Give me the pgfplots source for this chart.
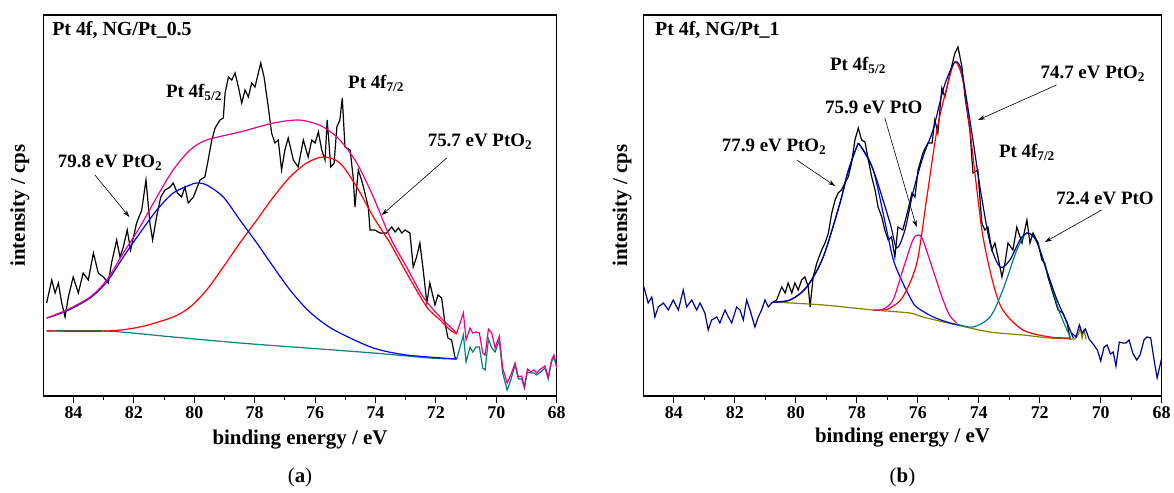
\documentclass[border=0pt]{standalone}
\usepackage{pgfplots}
\pgfplotsset{compat=1.18}
\usepackage{fontspec}
\setmainfont{Liberation Serif}
\usetikzlibrary{arrows.meta}
\definecolor{cteal}{RGB}{0,128,128}
\definecolor{cnavy}{RGB}{0,0,140}
\definecolor{colive}{RGB}{128,128,0}
\pgfplotsset{
 xpsstyle/.style={
  scale only axis, height=381bp, ymin=0, ymax=381, xmin=68, xmax=85, x dir=reverse,
  ytick=\empty, xtick={68,70,...,84}, minor xtick={69,71,...,83},
  xtick pos=bottom, tick align=outside, major tick length=7bp, minor tick length=4bp,
  axis line style={line width=1.3bp}, every tick/.style={line width=1.1bp, black},
  tick label style={font=\fontsize{18}{20}\selectfont\bfseries},
  /pgf/number format/assume math mode=true,
  xlabel={binding energy / eV}, ylabel={intensity / cps},
  label style={font=\fontsize{21}{24}\selectfont\bfseries},
  clip=false,
  every axis plot/.append style={line width=1.2bp, no markers},
  anchor=south west,
 },
}
\tikzset{
 ann/.style={font=\fontsize{19}{21}\selectfont\bfseries, inner sep=0pt},
 arr/.style={line width=0.6bp, -{Stealth[length=7bp,width=4.5bp]}},
}
\begin{document}
\begin{tikzpicture}
\useasboundingbox (0,0) rectangle (1174bp,493bp);
% ---------------- panel (a)
\begin{axis}[xpsstyle, at={(43.3bp,97bp)}, width=513.4bp,
  xlabel style={at={(axis description cs:0.5,-0.1155)}, anchor=center},
  ylabel style={at={(axis description cs:-0.0454,0.5)}, anchor=center}]
\addplot[black] coordinates {(84.89,93)(84.72,116)(84.61,103)(84.50,113)(84.39,93)(84.28,79)(84.17,99)(84.01,119)(83.84,103)(83.68,123)(83.51,116)(83.34,143)(83.18,123)(83.01,119)(82.85,113)(82.74,133)(82.57,156)(82.46,139)(82.35,149)(82.22,166)(82.11,146)(81.91,173)(81.74,186)(81.60,216)(81.47,173)(81.38,156)(81.25,179)(81.11,199)(80.97,206)(80.80,209)(80.70,213)(80.56,203)(80.42,199)(80.31,209)(80.20,193)(80.03,199)(79.81,216)(79.65,219)(79.54,236)(79.42,256)(79.31,268)(79.15,276)(79.04,278)(78.98,303)(78.87,319)(78.76,316)(78.65,323)(78.54,309)(78.43,293)(78.32,306)(78.21,299)(78.10,313)(77.99,309)(77.88,323)(77.80,333)(77.69,319)(77.55,289)(77.44,263)(77.33,253)(77.22,256)(77.11,226)(77.00,246)(76.89,258)(76.72,236)(76.56,229)(76.39,256)(76.23,239)(76.11,256)(76.00,253)(75.89,264)(75.78,246)(75.67,236)(75.60,276)(75.48,229)(75.37,233)(75.28,269)(75.18,276)(75.10,298)(75.01,249)(74.84,246)(74.74,219)(74.68,189)(74.57,226)(74.46,216)(74.35,203)(74.24,189)(74.18,166)(74.02,166)(73.85,163)(73.63,163)(73.46,169)(73.35,164)(73.24,168)(73.13,163)(73.02,166)(72.86,163)(72.75,129)(72.64,139)(72.53,153)(72.42,126)(72.30,93)(72.20,113)(72.03,91)(71.93,101)(71.81,98)(71.70,73)(71.60,58)(71.48,56)(71.37,39)(71.31,37)};
\addplot[cteal, smooth] coordinates {(84.89,65)(82.90,65)(80.70,59)(78.49,53)(76.28,48)(74.07,43)(72.20,38)(71.31,37)};
\addplot[cteal] coordinates {(71.31,37)(71.09,61)(71.00,34)(70.87,49)(70.78,44)(70.67,49)(70.56,49)(70.45,28)(70.37,26)(70.26,57)(70.15,48)(70.04,44)(69.90,56)(69.79,23)(69.64,6)(69.52,16)(69.38,31)(69.27,17)(69.16,17)(69.07,8)(68.97,24)(68.86,23)(68.75,23)(68.66,21)(68.53,24)(68.39,28)(68.28,17)(68.17,34)(68.09,39)(68.00,28)};
\addplot[red, smooth] coordinates {(84.89,65)(82.90,65)(81.80,69)(80.70,79)(80.14,89)(79.59,106)(79.04,129)(78.49,153)(77.93,176)(77.38,199)(76.83,219)(76.28,233)(75.73,239)(75.18,233)(74.62,209)(74.07,179)(73.52,153)(72.97,123)(72.30,89)(71.86,76)(71.53,66)(71.31,62)};
\addplot[blue, smooth] coordinates {(84.89,78)(84.23,85)(83.45,98)(82.90,114)(82.35,139)(81.80,163)(81.24,186)(80.70,203)(80.14,211)(79.92,213)(79.59,211)(79.04,199)(78.49,176)(77.93,153)(77.38,129)(76.83,106)(76.28,87)(75.73,73)(75.18,63)(74.07,48)(72.97,41)(71.31,37)};
\addplot[magenta, smooth] coordinates {(84.89,78)(84.23,86)(83.45,99)(82.90,116)(82.35,143)(81.80,169)(81.24,199)(80.70,226)(80.14,246)(79.59,256)(78.49,264)(77.38,273)(76.61,276)(76.17,274)(75.73,269)(75.18,256)(74.62,233)(74.07,199)(73.52,159)(72.97,129)(72.42,99)(71.86,79)(71.31,63)};
\addplot[magenta] coordinates {(71.31,63)(71.09,83)(71.00,56)(70.87,68)(70.78,63)(70.67,64)(70.56,63)(70.45,43)(70.37,41)(70.26,67)(70.15,63)(70.04,48)(69.90,60)(69.79,28)(69.64,13)(69.52,21)(69.38,33)(69.27,19)(69.16,20)(69.07,9)(68.97,27)(68.86,24)(68.75,26)(68.66,23)(68.53,27)(68.39,30)(68.28,19)(68.17,36)(68.09,41)(68.00,29)};
\node[ann, anchor=west, font=\fontsize{20}{22}\selectfont\bfseries] at (axis cs:84.71,366) {Pt 4f, NG/Pt\_0.5};
\node[ann] at (axis cs:80.01,304) {Pt 4f\textsubscript{5/2}};
\node[ann] at (axis cs:73.98,313) {Pt 4f\textsubscript{7/2}};
\node[ann] at (axis cs:82.79,233) {79.8 eV PtO\textsubscript{2}};
\draw[arr] (axis cs:83.29,221) -- (axis cs:82.15,179);
\node[ann] at (axis cs:70.54,254) {75.7 eV PtO\textsubscript{2}};
\draw[arr] (axis cs:71.64,238) -- (axis cs:73.79,181);
\node[font=\fontsize{21}{24}\selectfont] at (axis description cs:0.5,-0.215) {(\textbf{a})};
\end{axis}
% ---------------- panel (b)
\begin{axis}[xpsstyle, at={(643.3bp,97bp)}, width=518.4bp,
  xlabel style={at={(axis description cs:0.5,-0.108)}, anchor=center},
  ylabel style={at={(axis description cs:-0.041,0.5)}, anchor=center}]
\addplot[cnavy] coordinates {(84.98,109)(84.84,93)(84.72,99)(84.62,79)(84.51,89)(84.34,93)(84.18,86)(84.02,96)(83.85,86)(83.69,106)(83.58,89)(83.41,96)(83.25,86)(83.14,93)(82.98,83)(82.87,66)(82.76,76)(82.59,79)(82.49,73)(82.32,86)(82.21,79)(82.10,73)(81.94,89)(81.83,86)(81.72,76)(81.61,96)(81.50,86)(81.34,69)(81.23,79)(81.12,86)(81.01,96)(80.90,89)(80.79,93)(80.74,94)};
\addplot[black] coordinates {(80.74,94)(80.63,96)(80.46,109)(80.35,103)(80.25,113)(80.13,103)(80.03,113)(79.92,106)(79.81,116)(79.70,119)(79.59,109)(79.53,89)(79.43,119)(79.31,133)(79.15,146)(79.04,153)(78.93,163)(78.82,183)(78.71,196)(78.61,203)(78.50,206)(78.39,213)(78.28,219)(78.17,233)(78.06,256)(77.95,268)(77.84,256)(77.73,254)(77.62,236)(77.51,219)(77.40,206)(77.30,189)(77.18,179)(77.08,166)(76.97,156)(76.86,159)(76.75,139)(76.65,169)(76.49,166)(76.32,186)(76.19,203)(76.09,199)(75.99,226)(75.83,243)(75.67,253)(75.53,253)(75.44,276)(75.34,263)(75.21,308)(75.11,299)(74.94,323)(74.78,343)(74.68,349)(74.55,329)(74.45,299)(74.29,266)(74.19,223)(74.03,226)(73.90,173)(73.80,166)(73.70,169)(73.57,146)(73.47,153)(73.37,139)(73.24,119)(73.14,133)(73.04,153)(72.88,146)(72.75,169)(72.58,153)(72.42,176)(72.32,153)(72.22,163)(72.05,153)(71.93,136)(71.83,133)(71.73,119)(71.60,106)(71.50,96)(71.40,86)(71.24,83)(71.10,73)(71.00,56)};
\addplot[colive, smooth] coordinates {(80.74,94)(79.10,91)(77.46,86)(76.26,83)(75.83,79)(74.72,71)(73.63,64)(72.55,61)(71.67,58)(70.84,57)};
\addplot[colive] coordinates {(70.84,57)(70.73,62)(70.67,68)(70.61,58)(70.55,66)(70.48,57)};
\addplot[blue, smooth] coordinates {(80.74,94)(80.19,96)(79.64,109)(79.10,139)(78.55,193)(78.28,225)(78.00,249)(77.90,251)(77.46,226)(77.02,166)(76.81,137)(76.58,119)(76.26,99)(76.04,89)(75.49,79)(74.94,73)(74.62,71)};
\addplot[magenta, smooth] coordinates {(77.46,86)(77.13,87)(76.81,96)(76.49,126)(76.16,156)(75.98,161)(75.83,156)(75.50,126)(75.17,96)(74.94,80)(74.72,73)};
\addplot[red, smooth] coordinates {(77.14,86)(76.91,88)(76.49,99)(76.03,133)(75.70,199)(75.37,266)(75.04,309)(74.78,334)(74.52,316)(74.29,266)(74.06,206)(73.86,159)(73.53,113)(73.21,86)(72.55,66)(71.67,59)(71.00,58)};
\addplot[cteal, smooth] coordinates {(74.72,72)(74.19,69)(73.63,79)(73.21,106)(72.75,146)(72.42,163)(72.08,153)(71.67,116)(71.34,83)(71.00,59)};
\addplot[cnavy, smooth] coordinates {(80.74,94)(80.19,96)(79.64,109)(79.10,139)(78.55,193)(78.28,225)(78.00,249)(77.90,251)(77.46,226)(76.91,173)(76.69,148)(76.42,166)(76.16,203)(75.83,239)(75.50,266)(75.17,306)(74.94,325)(74.78,334)(74.65,332)(74.52,319)(74.19,256)(73.96,209)(73.63,153)(73.30,129)(72.98,136)(72.65,156)(72.42,163)(72.22,160)(72.08,153)(71.75,123)(71.43,96)(71.10,73)(70.90,58)};
\addplot[cnavy] coordinates {(70.95,63)(70.81,59)(70.70,71)(70.61,63)(70.50,67)(70.38,57)(70.25,52)(70.11,46)(70.00,35)(69.89,49)(69.79,51)(69.68,42)(69.59,44)(69.50,30)(69.39,54)(69.28,53)(69.17,53)(69.07,56)(68.95,43)(68.82,36)(68.71,41)(68.58,56)(68.48,59)(68.36,58)(68.25,36)(68.15,18)(68.00,38)};
\node[ann, anchor=west, font=\fontsize{20}{22}\selectfont\bfseries] at (axis cs:84.62,366) {Pt 4f, NG/Pt\_1};
\node[ann] at (axis cs:77.96,331) {Pt 4f\textsubscript{5/2}};
\node[ann] at (axis cs:77.44,289) {75.9 eV PtO};
\draw[arr] (axis cs:77.08,278) -- (axis cs:76.04,169);
\node[ann] at (axis cs:80.71,249) {77.9 eV PtO\textsubscript{2}};
\draw[arr] (axis cs:79.97,236) -- (axis cs:78.71,210);
\node[ann] at (axis cs:70.26,322) {74.7 eV PtO\textsubscript{2}};
\draw[arr] (axis cs:71.45,311) -- (axis cs:74.02,276);
\node[ann] at (axis cs:72.42,244) {Pt 4f\textsubscript{7/2}};
\node[ann] at (axis cs:69.86,198) {72.4 eV PtO};
\draw[arr] (axis cs:69.97,186) -- (axis cs:71.83,154);
\node[font=\fontsize{21}{24}\selectfont] at (axis description cs:0.5,-0.215) {(\textbf{b})};
\end{axis}
\end{tikzpicture}
\end{document}
